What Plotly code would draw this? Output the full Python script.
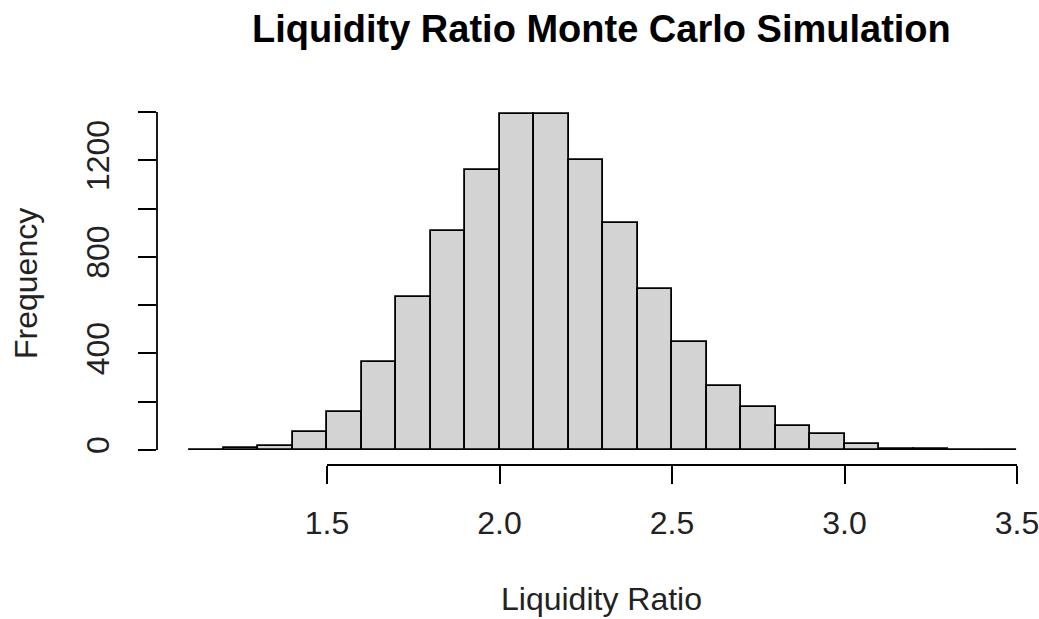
import plotly.graph_objects as go

bin_left = [1.1, 1.2, 1.3, 1.4, 1.5, 1.6, 1.7, 1.8, 1.9, 2.0, 2.1, 2.2,
            2.3, 2.4, 2.5, 2.6, 2.7, 2.8, 2.9, 3.0, 3.1, 3.2, 3.3, 3.4]
bin_width = 0.1
counts = [0, 8, 18, 73, 157, 365, 632, 907, 1160, 1390, 1390, 1200,
          940, 667, 449, 266, 180, 99, 67, 25, 5, 3, 2, 0]
x_ticks = [1.5, 2.0, 2.5, 3.0, 3.5]
x_tick_labels = ["1.5", "2.0", "2.5", "3.0", "3.5"]
y_ticks = [0, 200, 400, 600, 800, 1000, 1200, 1400]
y_tick_labels = ["0", "", "400", "", "800", "", "1200", ""]

FONT = "Liberation Sans, Arial, sans-serif"
W, H = 1039, 619
L, R, T, B = 157, 9, 102, 154
PW, PH = W - L - R, H - T - B

fig = go.Figure()
fig.add_trace(go.Bar(
    x=[b + bin_width / 2 for b in bin_left],
    y=counts,
    width=bin_width,
    marker=dict(color="#D3D3D3", line=dict(color="black", width=1.8)),
    showlegend=False,
    hoverinfo="skip",
))

# axis lines spanning the tick range (R style)
fig.add_shape(type="line", xref="x", yref="paper",
              x0=x_ticks[0], x1=x_ticks[-1], y0=0, y1=0,
              line=dict(color="black", width=1.8))
fig.add_shape(type="line", xref="paper", yref="y",
              x0=0, x1=0, y0=y_ticks[0], y1=y_ticks[-1],
              line=dict(color="black", width=1.8))

fig.update_layout(
    width=W, height=H,
    margin=dict(l=L, r=R, t=T, b=B, autoexpand=False),
    paper_bgcolor="white", plot_bgcolor="white",
    bargap=0,
    font=dict(family=FONT, size=32, color="black"),
    xaxis=dict(range=[1.0072, 3.5377], showgrid=False, zeroline=False,
               showline=False, ticks="outside", ticklen=18, tickwidth=1.8,
               tickcolor="black", tickvals=x_ticks, ticktext=x_tick_labels,
               tickfont=dict(size=32, color="#222"), ticklabelstandoff=12,
               ticklabeloverflow="allow", automargin=False),
    yaxis=dict(range=[-62.1, 1441.4], showgrid=False, zeroline=False,
               showline=False, ticks="outside", ticklen=18, tickwidth=1.8,
               tickcolor="black", tickvals=y_ticks, ticktext=y_tick_labels,
               tickangle=-90, tickfont=dict(size=32, color="#222"),
               ticklabelstandoff=16, automargin=False),
    annotations=[
        dict(text="<b>Liquidity Ratio Monte Carlo Simulation</b>",
             xref="paper", yref="paper", x=(601 - L) / PW,
             y=1 + (T - 29) / PH, xanchor="center", yanchor="middle",
             showarrow=False, font=dict(size=38, family=FONT)),
        dict(text="Liquidity Ratio", xref="paper", yref="paper",
             x=(601 - L) / PW, y=-(599 - (H - B)) / PH,
             xanchor="center", yanchor="middle", showarrow=False,
             font=dict(size=32, family=FONT, color="#222")),
        dict(text="Frequency", xref="paper", yref="paper",
             x=-(L - 26) / PW, y=(H - B - 284) / PH,
             xanchor="center", yanchor="middle", textangle=-90,
             showarrow=False, font=dict(size=32, family=FONT, color="#222")),
    ],
)

fig.write_html("out.html", config={"displayModeBar": False},
               post_script="document.body.style.margin='0';")
